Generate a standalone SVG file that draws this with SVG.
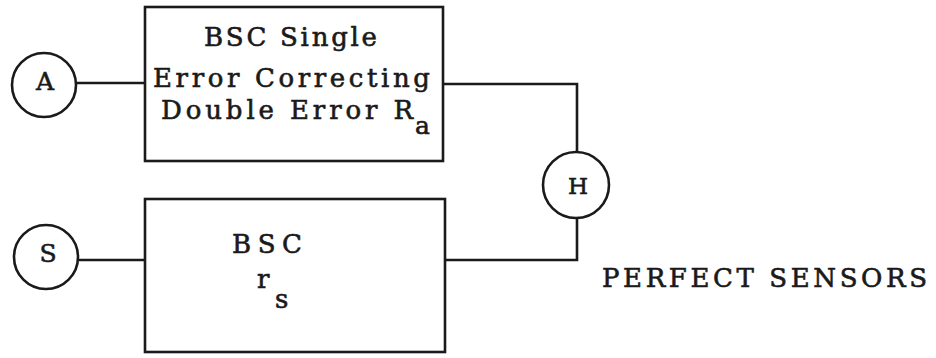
<svg xmlns="http://www.w3.org/2000/svg" width="936" height="358" viewBox="0 0 936 358">
<style>
.n{fill:none;stroke:#1a1a1a;stroke-width:2.6}
.t{font-family:"DejaVu Serif","Liberation Serif",serif;fill:#1a1a1a;stroke:#1a1a1a;stroke-width:0.6}
.c{stroke:#1a1a1a;stroke-width:2.6;fill:none}
</style>
<rect width="936" height="358" fill="#fff"/>
<g id="connectors">
<path class="c" d="M76 83 H145"/>
<path class="c" d="M443 84 H577 V151"/>
<path class="c" d="M78 260 H145"/>
<path class="c" d="M445 260 H577 V219"/>
</g>
<g id="nodeA">
<circle class="n" cx="44" cy="85" r="32"/>
<text class="t" x="45" y="90" font-size="25" text-anchor="middle">A</text>
</g>
<g id="nodeS">
<circle class="n" cx="46" cy="257" r="32"/>
<text class="t" x="48" y="262" font-size="25" text-anchor="middle">S</text>
</g>
<g id="nodeH">
<circle class="n" cx="576" cy="185" r="33"/>
<text class="t" x="578" y="194" font-size="23" text-anchor="middle">H</text>
</g>
<g id="boxTop">
<rect class="n" x="145" y="7" width="298" height="154"/>
<text class="t" x="204" y="46" font-size="26" textLength="173" lengthAdjust="spacing">BSC Single</text>
<text class="t" x="153" y="87" font-size="26" textLength="277" lengthAdjust="spacing">Error Correcting</text>
<text class="t" x="161" y="119" font-size="26" textLength="252" lengthAdjust="spacing">Double Error R</text>
<text class="t" x="415" y="134" font-size="25">a</text>
</g>
<g id="boxBottom">
<rect class="n" x="145" y="199" width="300" height="153"/>
<text class="t" x="232" y="253" font-size="26" textLength="70" lengthAdjust="spacing">BSC</text>
<text class="t" x="257" y="288" font-size="26">r</text>
<text class="t" x="275" y="308" font-size="26">s</text>
</g>
<g id="label">
<text class="t" x="602" y="287" font-size="26" textLength="325" lengthAdjust="spacing">PERFECT SENSORS</text>
</g>
</svg>
